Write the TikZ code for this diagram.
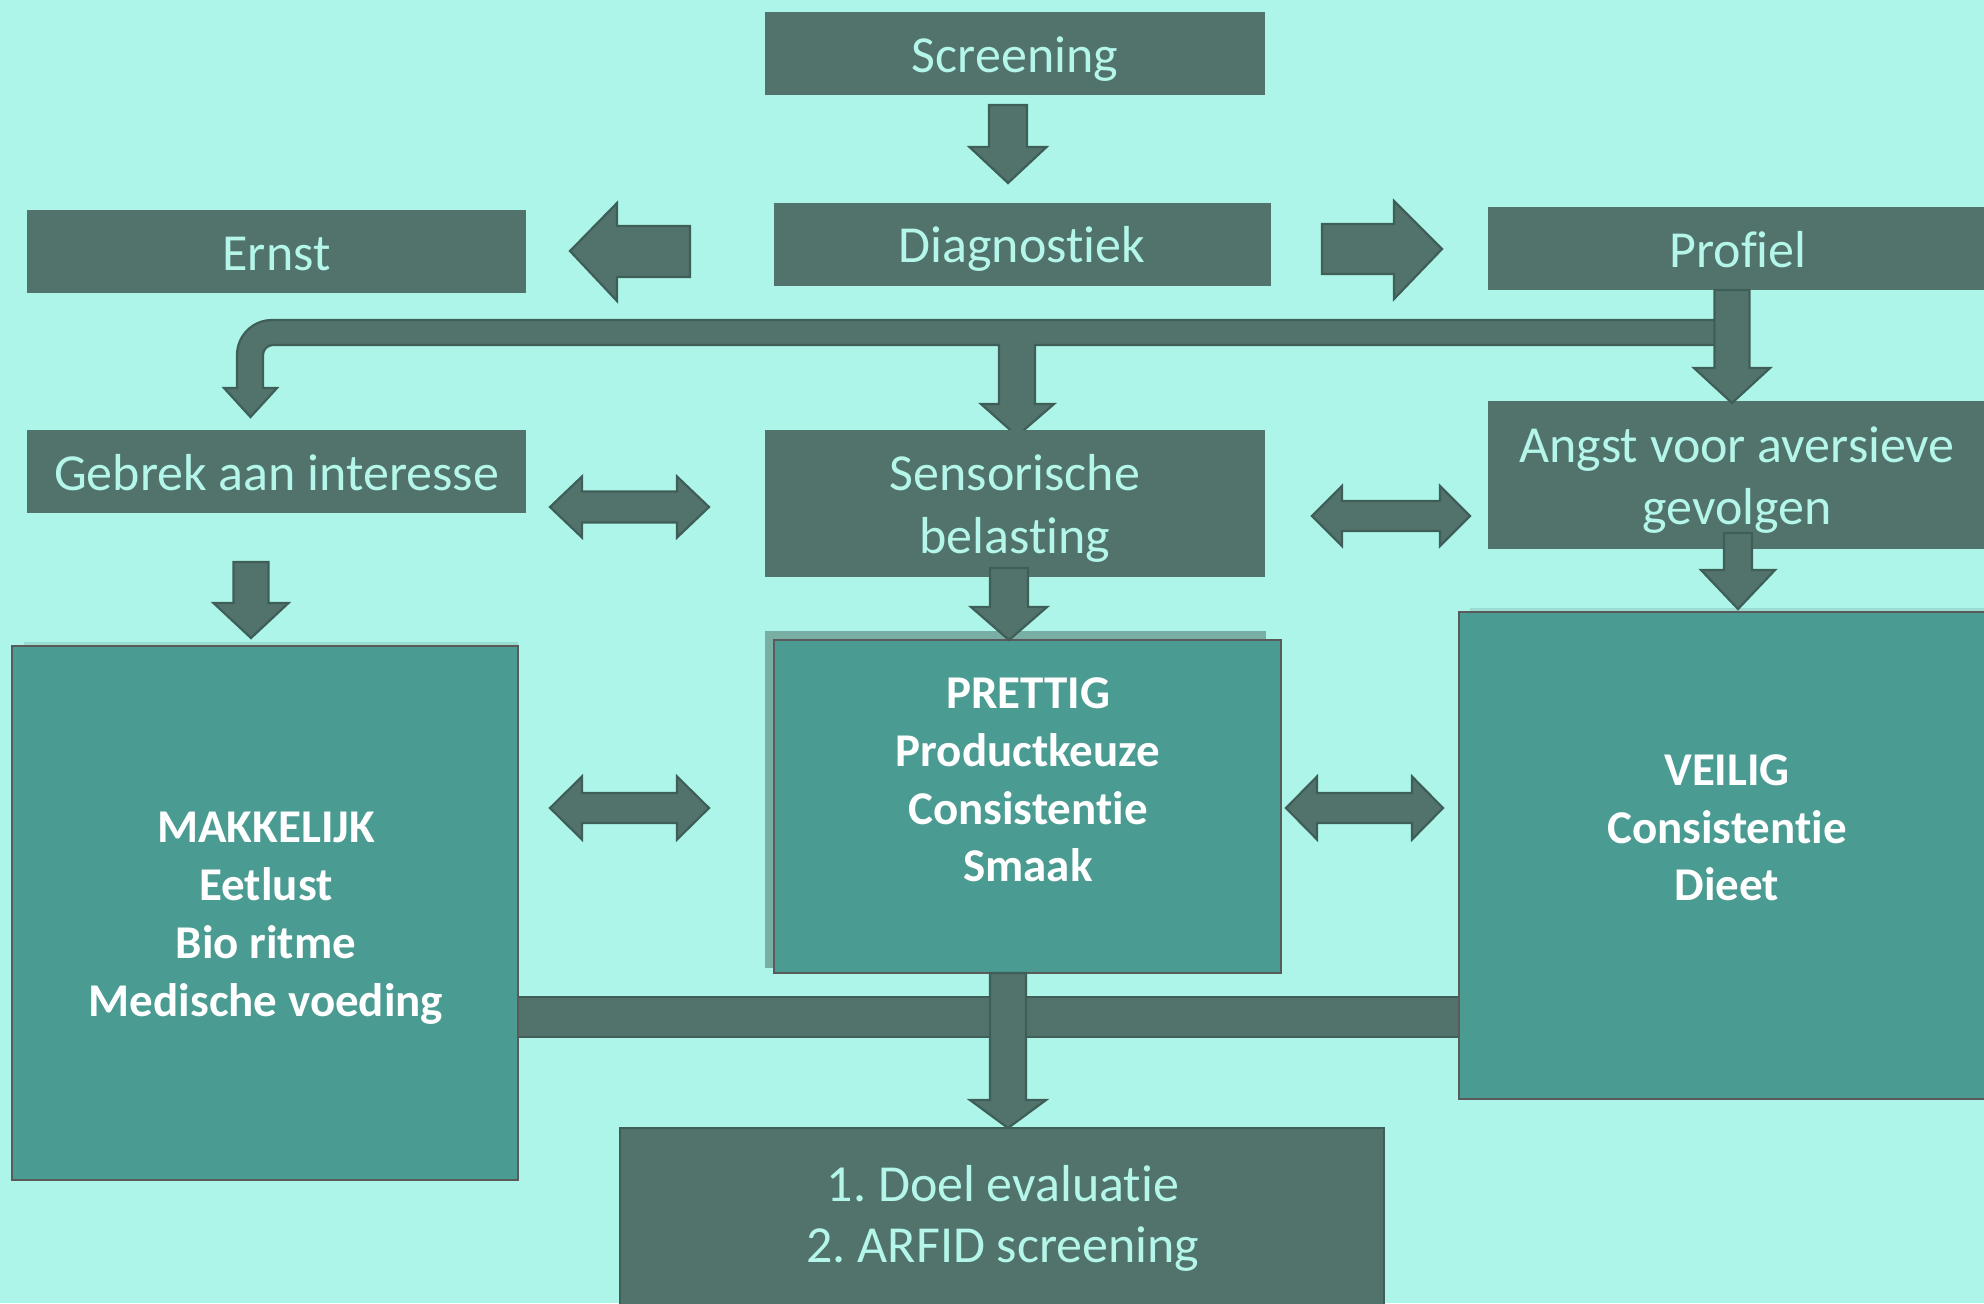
\documentclass[tikz,border=0pt]{standalone}
\usepackage{fontspec}
\setmainfont{Carlito}[Ligatures=NoCommon, Contextuals=NoAlternate]
\frenchspacing
\usetikzlibrary{calc}
\definecolor{bg}{HTML}{ADF5E9}
\definecolor{dbox}{HTML}{51736C}
\definecolor{dtext}{HTML}{B4F6EA}
\definecolor{tbox}{HTML}{4A9B91}
\definecolor{tborder}{HTML}{5A5A5A}
\definecolor{arrline}{HTML}{3F5E58}
\definecolor{shadowc}{HTML}{79AEA5}
\newcommand\blkdown[6]{% x, ytop, ytip, shaft half width, head half width, head length
  \draw[blk] ({#1-#4},#2) -- ({#1+#4},#2) -- ({#1+#4},{#3-#6}) -- ({#1+#5},{#3-#6}) -- (#1,#3)
    -- ({#1-#5},{#3-#6}) -- ({#1-#4},{#3-#6}) -- cycle;}
\newcommand\blkdouble[6]{% x1, x2, yc, shaft half width, head half width, head length
  \draw[blk] (#1,#3) -- ({#1+#6},{#3-#5}) -- ({#1+#6},{#3-#4}) -- ({#2-#6},{#3-#4}) -- ({#2-#6},{#3-#5})
    -- (#2,#3) -- ({#2-#6},{#3+#5}) -- ({#2-#6},{#3+#4}) -- ({#1+#6},{#3+#4}) -- ({#1+#6},{#3+#5}) -- cycle;}
\begin{document}
\begin{tikzpicture}[x=0.5pt,y=-0.5pt,
  darkbox/.style={fill=dbox, inner sep=0pt, outer sep=0pt, anchor=north west},
  tealbox/.style={fill=tbox, draw=tborder, line width=1.25pt, inner sep=0pt, outer sep=0pt, anchor=north west},
  lbl/.style={anchor=base, inner sep=0pt, text=dtext, font=\fontsize{26pt}{31pt}\selectfont},
  blbl/.style={anchor=base, inner sep=0pt, text=white, font=\bfseries\fontsize{23.5pt}{29pt}\selectfont},
  blk/.style={fill=dbox, draw=arrline, line width=1.1pt, line join=miter}]

\fill[bg] (0,0) rectangle (1984,1303);
\useasboundingbox (0,0) rectangle (1984,1303);
\clip (0,0) rectangle (1984,1303);

% shadows
\fill[shadowc] (765,631) rectangle (1266,968);
\fill[shadowc!35!bg] (24,642) rectangle (518,647);
\fill[shadowc!35!bg] (1470,608) rectangle (1990,612);

% connector bars (drawn below boxes)
\draw[blk] (1720,320) -- (272,320) .. controls (252.7,320) and (237,335.7) .. (237,355) -- (237,388)
  -- (224,388) -- (250.5,417) -- (277,388) -- (263,388) -- (263,355)
  .. controls (263,349.5) and (267.5,345) .. (273,345) -- (999,345) -- (999,404) -- (981,404)
  -- (1017,436) -- (1054,404) -- (1035,404) -- (1035,345) -- (1720,345) -- cycle;
\draw[blk] (510,997) rectangle (1465,1037);

% boxes
\node[darkbox, minimum width=250pt, minimum height=41.5pt] (scr) at (765,12) {};
\node[darkbox, minimum width=248.5pt, minimum height=41.5pt] (diag) at (774,203) {};
\node[darkbox, minimum width=249.5pt, minimum height=41.5pt] (ernst) at (27,210) {};
\node[darkbox, minimum width=251pt, minimum height=41.5pt] (prof) at (1488,207) {};
\node[darkbox, minimum width=249.5pt, minimum height=41.5pt] (gebrek) at (27,430) {};
\node[darkbox, minimum width=250pt, minimum height=73.5pt] (sens) at (765,430) {};
\node[darkbox, minimum width=251pt, minimum height=74pt] (angst) at (1488,401) {};
\node[tealbox, minimum width=253pt, minimum height=267pt] (makk) at (12,646) {};
\node[tealbox, minimum width=253.5pt, minimum height=166.5pt] (pret) at (774,640) {};
\node[tealbox, minimum width=268pt, minimum height=243.5pt] (veil) at (1459,612) {};
\node[darkbox, draw=arrline, line width=1pt, minimum width=382pt, minimum height=96pt] (doel) at (620,1128) {};

% arrows
\blkdown{1008}{105}{183}{19}{38.5}{36}
\draw[blk] (690,226) -- (617,226) -- (617,203) -- (570,251) -- (617,301) -- (617,277) -- (690,277) -- cycle;
\draw[blk] (1322,224) -- (1394,224) -- (1394,201) -- (1442,249) -- (1394,299) -- (1394,274) -- (1322,274) -- cycle;
\blkdown{1732}{290}{403}{17.5}{38}{35}
\blkdouble{550}{709}{507}{15.5}{30.5}{32}
\blkdouble{1312}{1470}{516}{15}{30}{30}
\blkdown{251}{562}{638}{17.5}{37.5}{35}
\blkdown{1009}{568}{640}{19}{38}{33}
\blkdown{1738}{533}{609}{14}{37}{39}
\blkdouble{550}{709}{808}{15}{31.5}{32}
\blkdouble{1286}{1443}{808}{15}{31.5}{31}
\blkdown{1008}{973}{1128}{18}{38}{28}

% texts
\node[lbl] (t-scr) at (1015,72.5) {Screening};
\node[lbl] (t-diag) at (1022,262) {Diagnostiek};
\node[lbl] (t-ernst) at (276.5,270) {Ernst};
\node[lbl] (t-prof) at (1738,267) {Profiel};
\node[lbl] (t-gebrek) at (276.5,490) {Gebrek aan interesse};
\node[lbl] (t-sens1) at (1015,490) {Sensorische};
\node[lbl] (t-sens2) at (1015,553) {belasting};
\node[lbl] (t-angst1) at (1737,462) {Angst voor aversieve};
\node[lbl] (t-angst2) at (1737,524) {gevolgen};
\node[lbl] (t-doel1) at (1003,1201) {1. Doel evaluatie};
\node[lbl] (t-doel2) at (1003,1262) {2. ARFID screening};

\node[blbl] (t-makk1) at (266,842) {MAKKELIJK};
\node[blbl] (t-makk2) at (266,900) {Eetlust};
\node[blbl] (t-makk3) at (266,958) {Bio ritme};
\node[blbl] (t-makk4) at (266,1016) {Medische voeding};
\node[blbl] (t-pret1) at (1028,708) {PRETTIG};
\node[blbl] (t-pret2) at (1028,766) {Productkeuze};
\node[blbl] (t-pret3) at (1028,824) {Consistentie};
\node[blbl] (t-pret4) at (1028,881) {Smaak};
\node[blbl] (t-veil1) at (1727,785) {VEILIG};
\node[blbl] (t-veil2) at (1727,843) {Consistentie};
\node[blbl] (t-veil3) at (1727,900) {Dieet};
\end{tikzpicture}
\end{document}
